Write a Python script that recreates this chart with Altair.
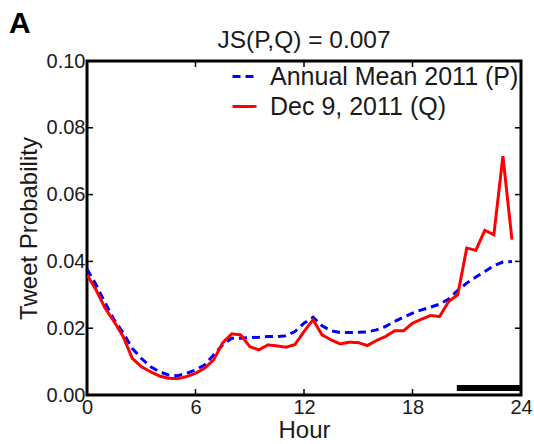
import altair as alt
import pandas as pd

hours = [0.0, 0.5, 1.0, 1.5, 2.0, 2.5, 3.0, 3.5, 4.0, 4.5, 5.0, 5.5,
         6.0, 6.5, 7.0, 7.5, 8.0, 8.5, 9.0, 9.5, 10.0, 10.5, 11.0, 11.5,
         12.0, 12.5, 13.0, 13.5, 14.0, 14.5, 15.0, 15.5, 16.0, 16.5, 17.0, 17.5,
         18.0, 18.5, 19.0, 19.5, 20.0, 20.5, 21.0, 21.5, 22.0, 22.5, 23.0, 23.5]

annual_mean = [0.0377, 0.0330, 0.0276, 0.0225, 0.0186, 0.0140, 0.0110, 0.0085,
               0.0070, 0.0060, 0.0058, 0.0065, 0.0075, 0.0090, 0.0120, 0.0150,
               0.0170, 0.0170, 0.0172, 0.0173, 0.0175, 0.0175, 0.0177, 0.0190,
               0.0215, 0.0233, 0.0207, 0.0192, 0.0187, 0.0187, 0.0188, 0.0189,
               0.0195, 0.0205, 0.0220, 0.0233, 0.0245, 0.0255, 0.0263, 0.0272,
               0.0287, 0.0313, 0.0335, 0.0353, 0.0370, 0.0387, 0.0398, 0.0400]

dec9 = [0.0360, 0.0315, 0.0260, 0.0220, 0.0175, 0.0110, 0.0085, 0.0070,
        0.0057, 0.0050, 0.0049, 0.0055, 0.0065, 0.0080, 0.0105, 0.0156,
        0.0183, 0.0180, 0.0145, 0.0135, 0.0150, 0.0147, 0.0143, 0.0151,
        0.0190, 0.0225, 0.0180, 0.0165, 0.0153, 0.0158, 0.0157, 0.0148,
        0.0163, 0.0175, 0.0192, 0.0192, 0.0215, 0.0227, 0.0238, 0.0235,
        0.0280, 0.0300, 0.0440, 0.0433, 0.0493, 0.0480, 0.0715, 0.0465]

series_names = ["Annual Mean 2011 (P)", "Dec 9, 2011 (Q)"]
series_colors = ["#0000ff", "#ff0000"]

x_ticks = [0, 6, 12, 18, 24]
y_ticks = [0.0, 0.02, 0.04, 0.06, 0.08, 0.10]
x_inner_ticks = [6, 12, 18]
y_inner_ticks = [0.02, 0.04, 0.06, 0.08]

bar_start, bar_end = 20.45, 24.0
bar_low, bar_high = 0.0012, 0.0030

title_text = "JS(P,Q) = 0.007"
panel_label = "A"

W, H = 434, 334
FONT = "Liberation Sans"
TXT = "#1a1a1a"

df = pd.DataFrame({
    "hour": hours * 2,
    "prob": annual_mean + dec9,
    "series": [series_names[0]] * len(hours) + [series_names[1]] * len(hours),
})

x_scale = alt.Scale(domain=[0, 24], nice=False, zero=False)
y_scale = alt.Scale(domain=[0, 0.10], nice=False)
x_axis = alt.Axis(values=x_ticks, title="Hour", format="d")
y_axis = alt.Axis(values=y_ticks, title="Tweet Probability", format=".2f")


def X(field="hour"):
    return alt.X(f"{field}:Q", scale=x_scale, axis=x_axis, title="Hour")


def Y(field="prob"):
    return alt.Y(f"{field}:Q", scale=y_scale, axis=y_axis, title="Tweet Probability")


lines = alt.Chart(df).mark_line(strokeWidth=3, clip=True).encode(
    x=X(), y=Y(),
    color=alt.Color("series:N",
                    scale=alt.Scale(domain=series_names, range=series_colors),
                    legend=alt.Legend(title=None, orient="none", legendX=144, legendY=2,
                                      symbolType="stroke", symbolSize=576,
                                      symbolStrokeWidth=3, labelFontSize=25,
                                      labelFont=FONT, labelColor=TXT, labelLimit=400,
                                      rowPadding=3, labelOffset=12)),
    strokeDash=alt.StrokeDash("series:N",
                              scale=alt.Scale(domain=series_names, range=[[8, 5], [1, 0]]),
                              legend=None),
)

bar = alt.Chart(pd.DataFrame({"hour": [bar_start], "hour2": [bar_end],
                              "prob": [bar_low], "prob2": [bar_high]})).mark_rect(color="black").encode(
    x=X(), x2="hour2:Q", y=Y(), y2="prob2:Q",
)

xt = pd.DataFrame({"hour": x_inner_ticks})
yt = pd.DataFrame({"prob": y_inner_ticks})
tick_bottom = alt.Chart(xt).mark_rule(color="black", strokeWidth=1.5).encode(
    x=X(), y=alt.value(H), y2=alt.value(H - 6))
tick_top = alt.Chart(xt).mark_rule(color="black", strokeWidth=1.5).encode(
    x=X(), y=alt.value(0), y2=alt.value(6))
tick_left = alt.Chart(yt).mark_rule(color="black", strokeWidth=1.5).encode(
    y=Y(), x=alt.value(0), x2=alt.value(6))
tick_right = alt.Chart(yt).mark_rule(color="black", strokeWidth=1.5).encode(
    y=Y(), x=alt.value(W), x2=alt.value(W - 6))

panel = alt.Chart(pd.DataFrame({"t": [panel_label]})).mark_text(
    font=FONT, fontSize=30, fontWeight="bold", align="left", baseline="alphabetic",
    color="black").encode(text="t:N", x=alt.value(-78), y=alt.value(-28))

title = alt.Chart(pd.DataFrame({"t": [title_text]})).mark_text(
    font=FONT, fontSize=24.5, align="center", baseline="alphabetic",
    color=TXT).encode(text="t:N", x=alt.value(W / 2), y=alt.value(-13))

chart = alt.layer(lines, bar, tick_bottom, tick_top, tick_left, tick_right,
                  panel, title).properties(
    width=W, height=H,
    autosize=alt.AutoSizeParams(type="none"),
    padding={"left": 87, "top": 61, "right": 13, "bottom": 49},
).configure_view(
    stroke="black", strokeWidth=3
).configure_axis(
    grid=False, ticks=False, domain=False,
    labelFont=FONT, labelFontSize=20, labelColor=TXT,
    titleFont=FONT, titleFontSize=24, titleColor=TXT, titleFontWeight="normal",
).configure_axisX(
    labelPadding=2, titlePadding=1, labelFlush=False,
).configure_axisY(
    labelPadding=2, titlePadding=5,
)

chart.save("out.html", embed_options={"renderer": "svg", "actions": False})
